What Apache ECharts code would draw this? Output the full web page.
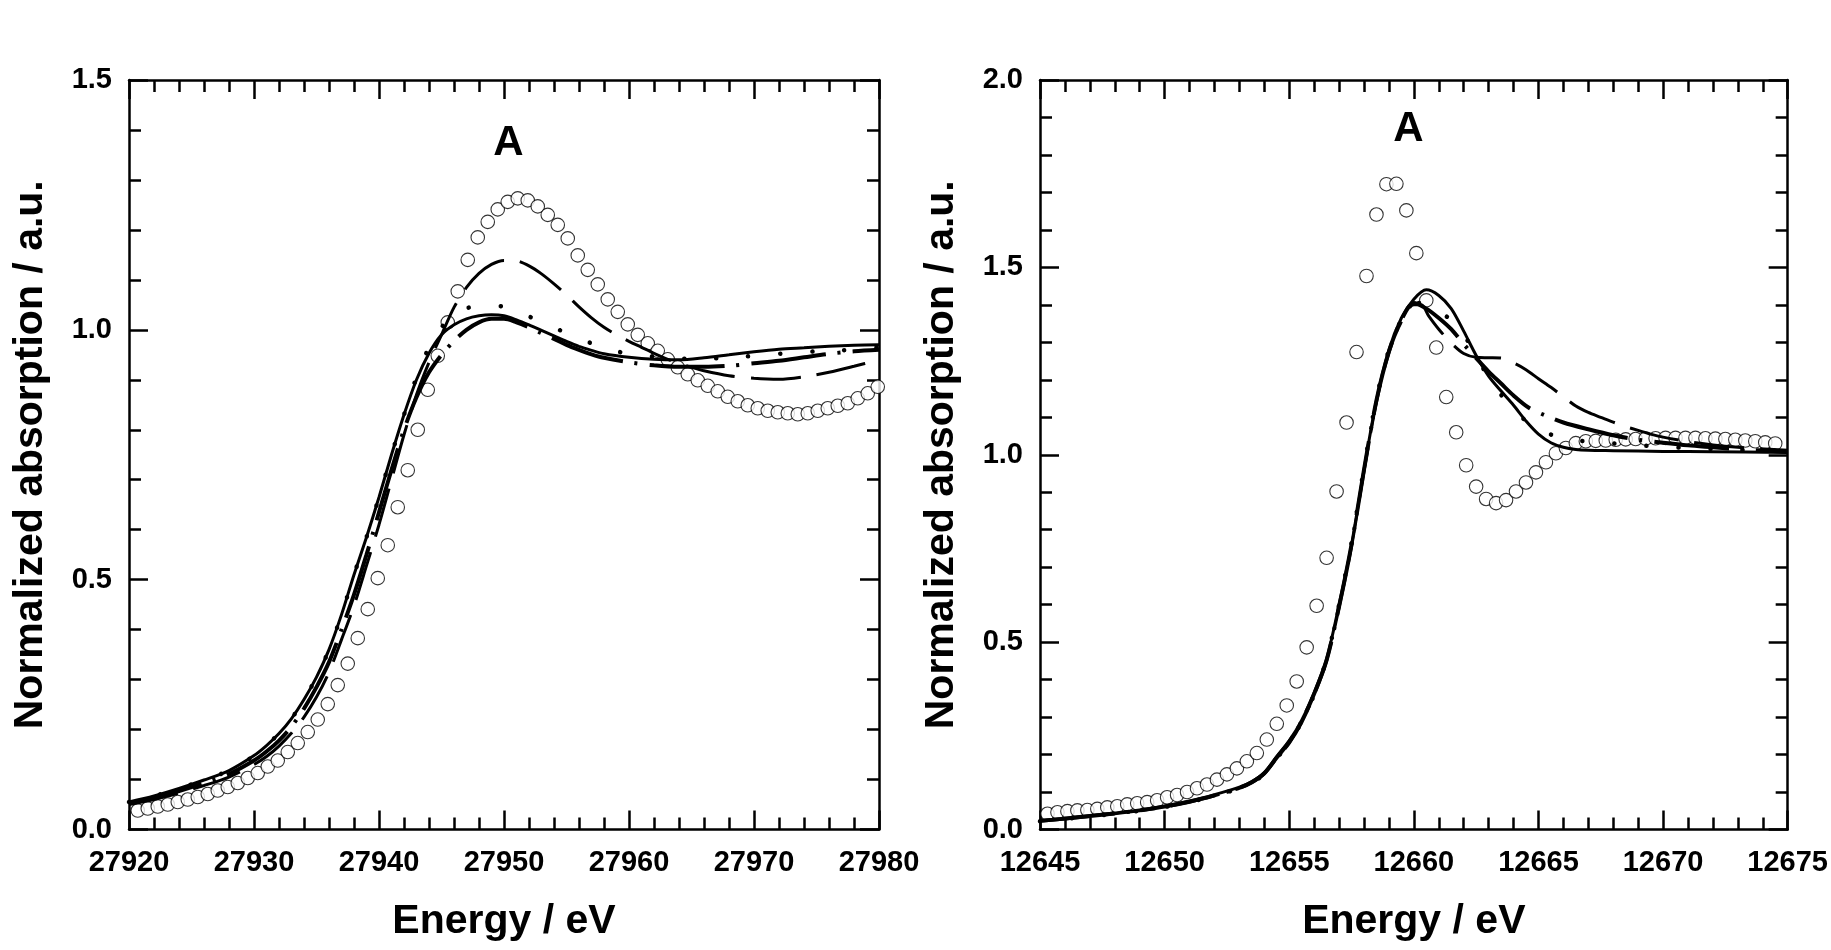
<!DOCTYPE html>
<html><head><meta charset="utf-8">
<script src="https://cdn.jsdelivr.net/npm/echarts@6/dist/echarts.min.js"></script>
<style>html,body{margin:0;padding:0;background:#fff}#c{width:1831px;height:950px}</style>
</head><body><div id="c"></div>
<script>
// ---------- Left panel (27920-27980 eV) ----------
const leftCircles = [
[27920.7,0.038],[27921.5,0.042],[27922.3,0.046],[27923.1,0.050],[27923.9,0.055],[27924.7,0.060],[27925.5,0.065],[27926.3,0.071],
[27927.1,0.078],[27927.9,0.085],[27928.7,0.093],[27929.5,0.103],[27930.3,0.113],[27931.1,0.126],[27931.9,0.138],[27932.7,0.155],
[27933.5,0.173],[27934.3,0.195],[27935.1,0.220],[27935.9,0.251],[27936.7,0.289],[27937.5,0.332],[27938.3,0.383],[27939.1,0.441],
[27939.9,0.503],[27940.7,0.569],[27941.5,0.645],[27942.3,0.719],[27943.1,0.800],[27943.9,0.880],[27944.7,0.948],[27945.5,1.015],
[27946.3,1.077],[27947.1,1.140],[27947.9,1.185],[27948.7,1.216],[27949.5,1.241],[27950.3,1.256],[27951.1,1.263],[27951.9,1.259],
[27952.7,1.247],[27953.5,1.230],[27954.3,1.210],[27955.1,1.183],[27955.9,1.149],[27956.7,1.120],[27957.5,1.091],[27958.3,1.061],
[27959.1,1.036],[27959.9,1.011],[27960.7,0.990],[27961.5,0.973],[27962.3,0.958],[27963.1,0.941],[27963.9,0.925],[27964.7,0.911],
[27965.5,0.899],[27966.3,0.888],[27967.1,0.877],[27967.9,0.866],[27968.7,0.857],[27969.5,0.849],[27970.3,0.843],[27971.1,0.838],
[27971.9,0.835],[27972.7,0.833],[27973.5,0.831],[27974.3,0.833],[27975.1,0.838],[27975.9,0.843],[27976.7,0.848],[27977.5,0.853],
[27978.3,0.863],[27979.1,0.873],[27979.9,0.886]
];
const leftSolid = [
[27920,0.055],[27922,0.067],[27924,0.082],[27926,0.099],[27928,0.118],[27930,0.148],[27931,0.168],[27932,0.192],[27933,0.222],
[27934,0.260],[27935,0.305],[27936,0.360],[27937,0.430],[27938,0.510],[27939,0.585],[27940,0.665],[27941,0.750],[27942,0.830],
[27943,0.900],[27944,0.953],[27945,0.990],[27946,1.010],[27947,1.022],[27948,1.028],[27949,1.030],[27950,1.028],[27951,1.020],
[27952,1.010],[27953,0.999],[27954,0.988],[27955,0.977],[27956,0.967],[27957,0.959],[27958,0.952],[27960,0.945],[27962,0.941],
[27964,0.940],[27966,0.944],[27968,0.950],[27970,0.956],[27972,0.961],[27974,0.964],[27976,0.967],[27978,0.969],[27980,0.970]
];
const leftDotted = [
[27920,0.055],[27922,0.067],[27924,0.082],[27926,0.099],[27928,0.118],[27930,0.148],[27932,0.192],[27933,0.222],[27934,0.260],
[27935,0.305],[27936,0.360],[27937,0.430],[27938,0.510],[27939,0.585],[27940,0.665],[27941,0.750],[27942,0.830],[27943,0.905],
[27944,0.965],[27945,1.005],[27946,1.030],[27947,1.043],[27948,1.048],[27949,1.049],[27950,1.046],[27951,1.038],[27952,1.027],
[27953,1.014],[27954,1.004],[27955,0.994],[27956,0.983],[27957,0.973],[27958,0.964],[27959,0.957],[27960,0.952],[27961,0.949],
[27963,0.944],[27965,0.942],[27967,0.943],[27969,0.946],[27971,0.950],[27973,0.954],[27975,0.957],[27977,0.959],[27979,0.963],[27980,0.965]
];
const leftLongDash = [
[27920,0.050],[27922,0.060],[27924,0.073],[27926,0.088],[27928,0.105],[27930,0.130],[27931,0.146],[27932,0.167],[27933,0.193],
[27934,0.225],[27935,0.265],[27936,0.315],[27937,0.380],[27938,0.448],[27939,0.528],[27940,0.610],[27941,0.700],[27942,0.790],
[27943,0.870],[27944,0.935],[27945,0.990],[27946,1.045],[27947,1.085],[27948,1.113],[27949,1.131],[27950,1.139],[27951,1.138],
[27952,1.128],[27953,1.112],[27954,1.092],[27955,1.070],[27956,1.046],[27957,1.024],[27958,1.005],[27959,0.990],[27960,0.977],
[27961,0.965],[27962,0.953],[27963,0.942],[27964,0.933],[27965,0.925],[27966,0.918],[27968,0.908],[27970,0.903],[27972,0.901],
[27974,0.906],[27976,0.915],[27978,0.927],[27980,0.940]
];
const leftDashDot = [
[27920,0.052],[27922,0.063],[27924,0.077],[27926,0.093],[27928,0.111],[27930,0.138],[27931,0.156],[27932,0.178],[27933,0.206],
[27934,0.242],[27935,0.285],[27936,0.335],[27937,0.400],[27938,0.470],[27939,0.550],[27940,0.635],[27941,0.720],[27942,0.800],
[27943,0.865],[27944,0.915],[27945,0.950],[27946,0.978],[27947,1.000],[27948,1.015],[27949,1.022],[27950,1.022],[27951,1.015],
[27952,1.005],[27953,0.993],[27954,0.982],[27955,0.970],[27956,0.960],[27957,0.951],[27958,0.944],[27960,0.935],[27962,0.929],
[27964,0.926],[27966,0.926],[27968,0.928],[27970,0.933],[27972,0.938],[27974,0.945],[27976,0.952],[27978,0.957],[27980,0.960]
];
const leftPeakLabel = [[27950.4,1.372]];

// ---------- Right panel (12645-12675 eV) ----------
const rightCircles = [
[12645.3,0.042],[12645.7,0.046],[12646.1,0.049],[12646.5,0.051],[12646.9,0.052],[12647.3,0.055],[12647.7,0.059],[12648.1,0.062],
[12648.5,0.067],[12648.9,0.070],[12649.3,0.073],[12649.7,0.078],[12650.1,0.086],[12650.5,0.092],[12650.9,0.100],[12651.3,0.110],
[12651.7,0.120],[12652.1,0.133],[12652.5,0.147],[12652.9,0.163],[12653.3,0.182],[12653.7,0.204],[12654.1,0.240],[12654.5,0.282],
[12654.9,0.331],[12655.3,0.395],[12655.7,0.486],[12656.1,0.597],[12656.5,0.725],[12656.9,0.902],[12657.3,1.086],[12657.7,1.274],
[12658.1,1.477],[12658.5,1.641],[12658.9,1.722],[12659.3,1.723],[12659.7,1.652],[12660.1,1.538],[12660.5,1.412],[12660.9,1.286],
[12661.3,1.154],[12661.7,1.060],[12662.1,0.972],[12662.5,0.915],[12662.9,0.882],[12663.3,0.871],[12663.7,0.879],[12664.1,0.902],
[12664.5,0.926],[12664.9,0.953],[12665.3,0.980],[12665.7,1.004],[12666.1,1.018],[12666.5,1.031],[12666.9,1.036],[12667.3,1.037],
[12667.7,1.038],[12668.1,1.040],[12668.5,1.041],[12668.9,1.042],[12669.3,1.043],[12669.7,1.044],[12670.1,1.045],[12670.5,1.045],
[12670.9,1.045],[12671.3,1.045],[12671.7,1.044],[12672.1,1.043],[12672.5,1.042],[12672.9,1.040],[12673.3,1.038],[12673.7,1.036],
[12674.1,1.033],[12674.5,1.030]
];
const rightSolid = [
[12645,0.024],[12646,0.030],[12647,0.037],[12648,0.044],[12649,0.052],[12650,0.063],[12651,0.076],[12652,0.093],[12653,0.113],
[12653.5,0.128],[12654,0.152],[12654.5,0.195],[12655,0.237],[12655.5,0.292],[12656,0.365],[12656.5,0.455],[12657,0.600],
[12657.5,0.760],[12658,0.960],[12658.5,1.145],[12659,1.280],[12659.5,1.365],[12660,1.415],[12660.5,1.440],[12661,1.425],
[12661.5,1.390],[12662,1.330],[12662.5,1.265],[12663,1.210],[12663.5,1.170],[12664,1.132],[12664.5,1.090],[12665,1.055],
[12665.5,1.032],[12666,1.020],[12666.5,1.014],[12667,1.012],[12668,1.011],[12670,1.009],[12672,1.008],[12675,1.006]
];
const rightDotted = [
[12645,0.022],[12646,0.028],[12647,0.035],[12648,0.042],[12649,0.050],[12650,0.060],[12651,0.073],[12652,0.090],[12653,0.110],
[12653.5,0.125],[12654,0.148],[12654.5,0.190],[12655,0.232],[12655.5,0.287],[12656,0.360],[12656.5,0.455],[12657,0.600],
[12657.5,0.765],[12658,0.965],[12658.5,1.150],[12659,1.280],[12659.5,1.360],[12660,1.405],[12660.5,1.405],[12661,1.385],
[12661.5,1.358],[12662,1.320],[12662.5,1.265],[12663,1.205],[12663.5,1.160],[12664,1.122],[12664.5,1.090],[12665,1.068],
[12665.5,1.054],[12666,1.045],[12666.7,1.037],[12668,1.030],[12669.3,1.024],[12671,1.018],[12673,1.013],[12675,1.010]
];
const rightDashDot = [
[12645,0.023],[12646,0.029],[12647,0.036],[12648,0.043],[12649,0.051],[12650,0.061],[12651,0.074],[12652,0.091],[12653,0.111],
[12653.5,0.126],[12654,0.150],[12654.5,0.192],[12655,0.234],[12655.5,0.289],[12656,0.362],[12656.5,0.452],[12657,0.595],
[12657.5,0.760],[12658,0.960],[12658.5,1.145],[12659,1.275],[12659.5,1.360],[12660,1.405],[12660.5,1.390],[12661,1.365],
[12661.5,1.335],[12662,1.295],[12662.5,1.258],[12663,1.222],[12663.5,1.190],[12664,1.158],[12664.6,1.126],[12665.3,1.104],
[12666,1.086],[12667,1.068],[12668,1.052],[12669,1.040],[12670,1.032],[12671,1.025],[12672,1.020],[12673,1.015],[12675,1.008]
];
const rightLongDash = [
[12645,0.022],[12646,0.028],[12647,0.035],[12648,0.042],[12649,0.050],[12650,0.060],[12651,0.073],[12652,0.090],[12653,0.110],
[12653.5,0.125],[12654,0.148],[12654.5,0.190],[12655,0.230],[12655.5,0.285],[12656,0.358],[12656.5,0.450],[12657,0.592],
[12657.5,0.755],[12658,0.955],[12658.5,1.140],[12659,1.272],[12659.5,1.355],[12660,1.400],[12660.3,1.400],[12660.6,1.370],
[12661,1.335],[12661.5,1.298],[12662,1.270],[12662.5,1.260],[12663,1.259],[12663.5,1.258],[12664,1.245],[12664.5,1.227],
[12665,1.203],[12665.5,1.180],[12666,1.155],[12666.5,1.130],[12667,1.113],[12667.5,1.100],[12668,1.087],[12668.5,1.075],
[12669,1.065],[12669.5,1.055],[12670,1.047],[12671,1.035],[12672,1.026],[12673,1.020],[12675,1.012]
];
const rightPeakLabel = [[12659.8,1.868]];

// ---------- Axis ranges / ticks ----------
const leftX = {min:27920, max:27980, interval:10};
const rightX = {min:12645, max:12675, interval:5};
const leftY = {min:0, max:1.5, interval:0.5};
const rightY = {min:0, max:2.0, interval:0.5};
const xTitle = 'Energy / eV';
const yTitle = 'Normalized absorption / a.u.';
const peakText = 'A';

const FONT = "'Liberation Sans', Arial, Helvetica, sans-serif";
const BLACK = '#000';

function axis(kind, gi, rng, pos, withLabels){
  const isX = kind === 'x';
  const a = {
    gridIndex: gi, type: 'value', min: rng.min, max: rng.max, interval: rng.interval, position: pos,
    axisLine: {show: true, onZero: false, lineStyle: {color: BLACK, width: 2.5}},
    axisTick: {show: true, inside: true, length: 19, lineStyle: {color: BLACK, width: 2.5}},
    minorTick: {show: true, splitNumber: 5, length: 12, lineStyle: {color: BLACK, width: 2.5}},
    splitLine: {show: false}, minorSplitLine: {show: false},
    axisLabel: {show: withLabels, margin: isX ? 19 : 17, fontFamily: FONT, fontSize: 29, fontWeight: 'bold', color: BLACK,
      formatter: isX ? (v => String(v)) : (v => v.toFixed(1))},
    silent: true
  };
  if (withLabels) {
    a.name = isX ? xTitle : yTitle;
    a.nameLocation = 'middle';
    a.nameGap = isX ? 72 : 78;
    a.nameTextStyle = {fontFamily: FONT, fontSize: 41, fontWeight: 'bold', color: BLACK};
  }
  return a;
}

function circles(data, i){
  return {type: 'scatter', xAxisIndex: i, yAxisIndex: i, data: data, symbol: 'circle', symbolSize: 13.5, z: 2,
    itemStyle: {color: '#fff', borderColor: BLACK, borderWidth: 1.1}, silent: true};
}
function line(data, i, width, type, cap){
  return {type: 'line', xAxisIndex: i, yAxisIndex: i, data: data, smooth: 0.3, showSymbol: false, symbol: 'none', z: 3,
    lineStyle: {color: BLACK, width: width, type: type, cap: cap || 'butt'}, silent: true};
}
function peak(data, i){
  return {type: 'scatter', xAxisIndex: i, yAxisIndex: i, data: data, symbol: 'circle', symbolSize: 1, z: 4,
    itemStyle: {color: '#fff', opacity: 1},
    label: {show: true, position: [0, 0], align: 'center', verticalAlign: 'middle', formatter: peakText,
      fontFamily: FONT, fontSize: 42, fontWeight: 'bold', color: '#000', opacity: 1, textBorderWidth: 0},
    silent: true};
}

const chart = echarts.init(document.getElementById('c'), null, {renderer: 'canvas'});
chart.setOption({
  animation: false,
  backgroundColor: '#fff',
  grid: [
    {left: 129, top: 80, width: 750, height: 749.5},
    {left: 1040, top: 80, width: 750, height: 749.5}
  ],
  xAxis: [
    axis('x', 0, leftX, 'bottom', true), axis('x', 1, rightX, 'bottom', true),
    axis('x', 0, leftX, 'top', false), axis('x', 1, rightX, 'top', false)
  ],
  yAxis: [
    axis('y', 0, leftY, 'left', true), axis('y', 1, rightY, 'left', true),
    axis('y', 0, leftY, 'right', false), axis('y', 1, rightY, 'right', false)
  ],
  series: [
    circles(leftCircles, 0),
    line(leftSolid, 0, 3, 'solid'),
    line(leftDotted, 0, 4.5, [0.1, 32], 'round'),
    line(leftLongDash, 0, 3, [50, 16]),
    line(leftDashDot, 0, 4, [75, 12, 3, 12]),
    peak(leftPeakLabel, 0),
    circles(rightCircles, 1),
    line(rightSolid, 1, 3, 'solid'),
    line(rightDotted, 1, 4.5, [0.1, 32], 'round'),
    line(rightLongDash, 1, 3, [50, 16]),
    line(rightDashDot, 1, 4, [75, 12, 3, 12]),
    peak(rightPeakLabel, 1)
  ]
});
</script>
</body></html>
